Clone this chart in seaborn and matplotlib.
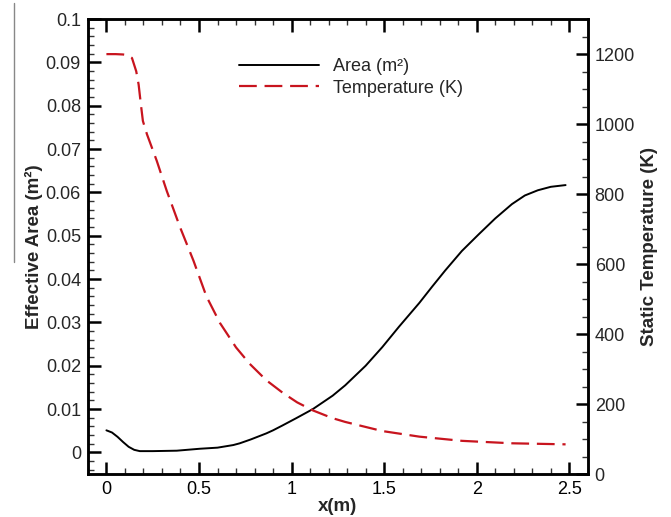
import numpy as np
import pandas as pd
import matplotlib
matplotlib.use("Agg")
import matplotlib.pyplot as plt
from matplotlib.ticker import MultipleLocator, FormatStrFormatter
from matplotlib.lines import Line2D
import seaborn as sns

# ---- data ----
area_x = [0.0, 0.03, 0.06, 0.09, 0.12, 0.15, 0.18, 0.25, 0.38, 0.505, 0.60, 0.685,
          0.72, 0.78, 0.864, 0.90, 0.95, 1.025, 1.115, 1.222, 1.29, 1.40, 1.49,
          1.58, 1.69, 1.76, 1.83, 1.92, 2.01, 2.10, 2.19, 2.26, 2.33, 2.40, 2.48]
area_y = [0.0051, 0.0046, 0.0036, 0.0024, 0.0013, 0.0006, 0.0003, 0.0003, 0.0004,
          0.00085, 0.0011, 0.0017, 0.0021, 0.0030, 0.0044, 0.0051, 0.0062, 0.0079,
          0.0100, 0.0131, 0.0155, 0.0200, 0.0243, 0.0290, 0.0345, 0.0383, 0.0420,
          0.0465, 0.0503, 0.0540, 0.0573, 0.0593, 0.0605, 0.0613, 0.0617]

temp_x = [0.0, 0.05, 0.09, 0.115, 0.138, 0.161, 0.174, 0.186, 0.197, 0.219, 0.272,
          0.326, 0.398, 0.47, 0.54, 0.613, 0.70, 0.774, 0.864, 0.953, 1.03, 1.115,
          1.22, 1.29, 1.49, 1.69, 1.92, 2.19, 2.48]
temp_y = [1200, 1200, 1199, 1197, 1189, 1151, 1113, 1057, 1009, 971, 895, 809, 705,
          610, 508, 432, 362, 315, 268, 232, 205, 182, 160, 149, 123, 107, 95, 88, 85]

x_ticks = [0, 0.5, 1, 1.5, 2, 2.5]
left_ticks = [0, 0.01, 0.02, 0.03, 0.04, 0.05, 0.06, 0.07, 0.08, 0.09, 0.1]
right_ticks = [0, 200, 400, 600, 800, 1000, 1200]

sns.set_theme(style="white")
plt.rcParams['font.family'] = ['Liberation Sans', 'DejaVu Sans']

fig = plt.figure(figsize=(6.71, 5.17), dpi=100)
ax = fig.add_axes([0.131, 0.083, 0.745, 0.880])
ax2 = ax.twinx()

df_a = pd.DataFrame({"x": area_x, "y": area_y})
df_t = pd.DataFrame({"x": temp_x, "y": temp_y})

sns.lineplot(data=df_a, x="x", y="y", ax=ax, color="black", lw=1.4, legend=False)
sns.lineplot(data=df_t, x="x", y="y", ax=ax2, color="#c8141e", lw=1.6, legend=False)
ax2.lines[0].set_dashes([8, 3.5])

ax.set_xlim(-0.1, 2.6)
ax.set_ylim(-0.005, 0.1)
ax2.set_ylim(0, 1300)

ax.set_xticks(x_ticks)
ax.set_yticks(left_ticks)
ax2.set_yticks(right_ticks)
ax.xaxis.set_minor_locator(MultipleLocator(0.1))
ax.yaxis.set_minor_locator(MultipleLocator(0.002))
ax2.yaxis.set_minor_locator(MultipleLocator(50))
ax.xaxis.set_major_formatter(FormatStrFormatter('%g'))
ax.yaxis.set_major_formatter(FormatStrFormatter('%g'))

for a in (ax, ax2):
    for s in a.spines.values():
        s.set_linewidth(1.8)
        s.set_color("black")

ax.tick_params(axis='x', which='both', direction='in', top=True, bottom=True,
               labelsize=13, colors='black', pad=5)
ax.tick_params(axis='y', which='both', direction='in', left=True, right=False,
               labelsize=13, pad=5)
ax2.tick_params(axis='y', which='both', direction='in', right=True, left=False,
                labelsize=13, pad=5)
for a in (ax, ax2):
    a.tick_params(which='major', length=9, width=1.8, color='black')
    a.tick_params(which='minor', length=4.5, width=1.0, color='#333333')

ax.set_xlabel("x(m)", fontsize=13.5, fontweight='bold', labelpad=0)
ax.set_ylabel("Effective Area (m²)", fontsize=13.5, fontweight='bold', labelpad=2)
ax2.set_ylabel("Static Temperature (K)", fontsize=13.5, fontweight='bold', labelpad=4)

handles = [Line2D([], [], color='black', lw=1.4),
           Line2D([], [], color='#c8141e', lw=1.6, dashes=[8, 3.5])]
ax.legend(handles, ["Area (m²)", "Temperature (K)"], loc='upper left',
          bbox_to_anchor=(0.27, 0.95), frameon=False, fontsize=13,
          handlelength=4.4, handletextpad=0.8, labelspacing=0.25)

fig.add_artist(Line2D([14 / 671, 14 / 671], [1 - 3 / 517, 1 - 262 / 517],
                      color='#888888', lw=1.0, transform=fig.transFigure))

fig.savefig("out.png", dpi=100)
